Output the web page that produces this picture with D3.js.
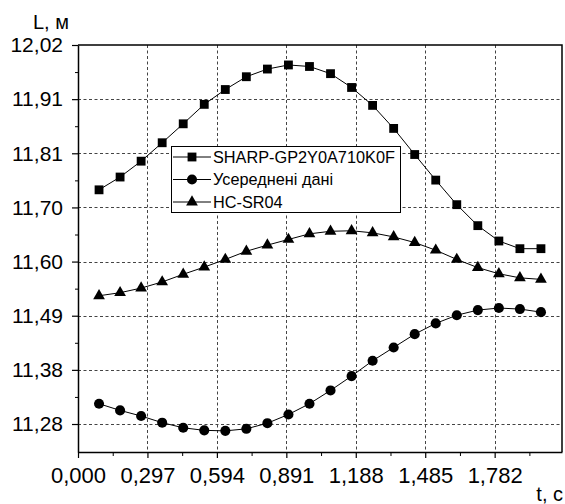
<!DOCTYPE html>
<html>
<head>
<meta charset="utf-8">
<script src="https://cdn.jsdelivr.net/npm/d3@7"></script>
<style>
  html, body { margin: 0; padding: 0; background: #fff; }
  svg text { font-family: "Liberation Sans", Arial, sans-serif; fill: #000; }
</style>
</head>
<body>
<div id="chart"></div>
<script>
// Chart data
const tValues = [0.09, 0.18, 0.27, 0.36, 0.45, 0.54, 0.63, 0.72, 0.81, 0.90, 0.99,
                 1.08, 1.17, 1.26, 1.35, 1.44, 1.53, 1.62, 1.71, 1.80, 1.89, 1.98];
const sharpValues = [11.736, 11.761, 11.792, 11.828, 11.865, 11.903, 11.932, 11.957, 11.972, 11.980, 11.977,
                     11.963, 11.936, 11.901, 11.856, 11.805, 11.755, 11.707, 11.666, 11.636, 11.621, 11.621];
const avgValues = [11.318, 11.305, 11.294, 11.281, 11.271, 11.266, 11.265, 11.269, 11.280, 11.297, 11.318,
                   11.344, 11.372, 11.402, 11.428, 11.454, 11.475, 11.491, 11.501, 11.505, 11.503, 11.497];
const hcValues = [11.529, 11.535, 11.544, 11.556, 11.571, 11.585, 11.600, 11.616, 11.628, 11.639, 11.650,
                  11.655, 11.656, 11.652, 11.644, 11.633, 11.618, 11.600, 11.584, 11.572, 11.564, 11.561];

const seriesNames = ["SHARP-GP2Y0A710K0F", "Усереднені дані", "HC-SR04"];

const xTickValues = [0, 0.297, 0.594, 0.891, 1.188, 1.485, 1.782];
const xTickLabels = ["0,000", "0,297", "0,594", "0,891", "1,188", "1,485", "1,782"];
const yTickValues = [11.2784, 11.3842, 11.4900, 11.5958, 11.7016, 11.8074, 11.9132, 12.0190];
const yTickLabels = ["11,28", "11,38", "11,49", "11,60", "11,70", "11,81", "11,91", "12,02"];

// Layout
const width = 565, height = 504;
const margin = { top: 45, right: 3, bottom: 52, left: 78 };

const svg = d3.select("#chart").append("svg")
    .attr("width", width)
    .attr("height", height);

const x = d3.scaleLinear()
    .domain([0, 2.07])
    .range([margin.left, width - margin.right]);
const y = d3.scaleLinear()
    .domain([11.2237, 12.019])
    .range([height - margin.bottom, margin.top]);

// Grid lines
const grid = svg.append("g")
    .attr("stroke", "#444")
    .attr("stroke-width", 1)
    .attr("stroke-dasharray", "3,2.5");
grid.selectAll("line.v")
    .data(xTickValues.slice(1))
    .enter().append("line")
    .attr("x1", d => Math.round(x(d)) + 0.5).attr("x2", d => Math.round(x(d)) + 0.5)
    .attr("y1", margin.top).attr("y2", height - margin.bottom);
grid.selectAll("line.h")
    .data(yTickValues.slice(0, -1))
    .enter().append("line")
    .attr("y1", d => Math.round(y(d)) + 0.5).attr("y2", d => Math.round(y(d)) + 0.5)
    .attr("x1", margin.left).attr("x2", width - margin.right);

// Series
const series = [
    { name: seriesNames[0], values: sharpValues, symbol: d3.symbolSquare, size: 78 },
    { name: seriesNames[1], values: avgValues, symbol: d3.symbolCircle, size: 80 },
    { name: seriesNames[2], values: hcValues, symbol: d3.symbolTriangle, size: 60 }
];

const line = d3.line()
    .x((d, i) => x(tValues[i]))
    .y(d => y(d));

series.forEach(s => {
    svg.append("path")
        .datum(s.values)
        .attr("fill", "none")
        .attr("stroke", "#000")
        .attr("stroke-width", 1)
        .attr("d", line);
    svg.append("g")
        .selectAll("path")
        .data(s.values)
        .enter().append("path")
        .attr("d", d3.symbol().type(s.symbol).size(s.size))
        .attr("transform", (d, i) => `translate(${x(tValues[i])},${y(d)})`)
        .attr("fill", "#000");
});

// Legend
const legend = svg.append("g");
legend.append("rect")
    .attr("x", 171.5).attr("y", 146.5)
    .attr("width", 229).attr("height", 66)
    .attr("fill", "#fff")
    .attr("stroke", "#000")
    .attr("stroke-width", 1);
series.forEach((s, i) => {
    const ly = 157 + i * 22.5;
    legend.append("line")
        .attr("x1", 173).attr("x2", 211)
        .attr("y1", ly).attr("y2", ly)
        .attr("stroke", "#000");
    legend.append("path")
        .attr("d", d3.symbol().type(s.symbol).size(s.size))
        .attr("transform", `translate(192,${ly})`)
        .attr("fill", "#000");
    legend.append("text")
        .attr("x", 213).attr("y", ly)
        .attr("dy", "0.36em")
        .style("font-size", "16.3px")
        .text(s.name);
});

// Frame (top and right)
svg.append("path")
    .attr("d", `M${margin.left},${margin.top}H${width - margin.right}V${height - margin.bottom}`)
    .attr("fill", "none")
    .attr("stroke", "#000")
    .attr("stroke-width", 1.5);

// Y axis
const yAxis = svg.append("g")
    .attr("transform", `translate(${margin.left},0)`)
    .call(d3.axisLeft(y)
        .tickValues(yTickValues)
        .tickFormat((d, i) => yTickLabels[i])
        .tickSize(6)
        .tickPadding(9)
        .tickSizeOuter(0));
svg.append("g")
    .attr("transform", `translate(${margin.left},0)`)
    .call(d3.axisLeft(y)
        .tickValues(yTickValues.slice(0, -1).map((d, i) => (d + yTickValues[i + 1]) / 2))
        .tickFormat("")
        .tickSize(3)
        .tickSizeOuter(0))
    .select(".domain").remove();

// X axis
const xAxis = svg.append("g")
    .attr("transform", `translate(0,${height - margin.bottom})`)
    .call(d3.axisBottom(x)
        .tickValues(xTickValues)
        .tickFormat((d, i) => xTickLabels[i])
        .tickSize(6)
        .tickSizeOuter(0));
svg.append("g")
    .attr("transform", `translate(0,${height - margin.bottom})`)
    .call(d3.axisBottom(x)
        .tickValues(xTickValues.map(d => d + 0.1485))
        .tickFormat("")
        .tickSize(4)
        .tickSizeOuter(0))
    .select(".domain").remove();

[yAxis, xAxis].forEach(a => {
    a.select(".domain").attr("stroke-width", 1.5);
    a.selectAll(".tick line").attr("stroke-width", 1.2);
    a.selectAll("text").attr("fill", "#000");
});
yAxis.selectAll("text").style("font-size", "21px");
xAxis.selectAll("text").style("font-size", "22px").attr("dy", null).attr("y", 31);

// Axis titles
svg.append("text")
    .attr("x", 33).attr("y", 29)
    .style("font-size", "20px")
    .text("L, м");
svg.append("text")
    .attr("x", 563).attr("y", 501)
    .attr("text-anchor", "end")
    .style("font-size", "20px")
    .text("t, c");
</script>
</body>
</html>
